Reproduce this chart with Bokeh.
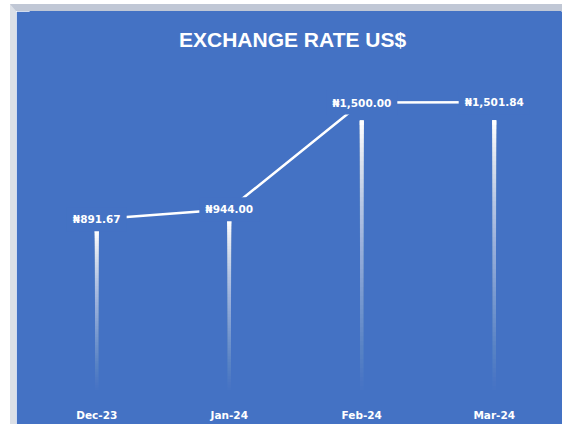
from bokeh.plotting import figure
from bokeh.models import FactorRange, Range1d, ColumnDataSource, Label
from bokeh.core.properties import value
from bokeh.embed import file_html
from bokeh.resources import INLINE

months = ["Dec-23", "Jan-24", "Feb-24", "Mar-24"]
rates = [891.67, 944.00, 1500.00, 1501.84]
rate_labels = ["₦891.67", "₦944.00", "₦1,500.00", "₦1,501.84"]
title_text = "EXCHANGE  RATE US$"

BLUE = "#4472C4"

p = figure(x_range=FactorRange(factors=months), y_range=Range1d(0, 1974),
           width=552, height=420, output_backend="svg", toolbar_location=None,
           title_location=None,
           min_border_left=14, min_border_right=8, min_border_top=0, min_border_bottom=41)
p.extra_y_ranges = {"bars": Range1d(0, 2106)}

p.background_fill_color = BLUE
p.border_fill_color = BLUE
p.outline_line_color = BLUE
p.outline_line_width = 2
p.xgrid.visible = False
p.ygrid.visible = False
p.yaxis.visible = False

ax = p.xaxis[0]
ax.axis_line_color = None
ax.major_tick_line_color = None
ax.minor_tick_line_color = None
ax.major_tick_out = 0
ax.major_tick_in = 0
ax.major_label_standoff = 18
ax.major_label_text_color = "white"
ax.major_label_text_font = "DejaVu Sans"
ax.major_label_text_font_style = "bold"
ax.major_label_text_font_size = "10.5px"

# gradient columns (white fading downwards): nested layers from each layer's
# start up to the rate, so the composite opacity grows toward the top
N = 60
prof = [((k) / N) ** 1.1 for k in range(N + 1)]
bx, bb, bt, ba = [], [], [], []
for m, r in zip(months, rates):
    for k in range(N):
        a_prev, a_next = prof[k], min(prof[k + 1], 0.999)
        layer = 1 - (1 - a_next) / (1 - a_prev)
        bx.append(m)
        bb.append(r * k / N)
        bt.append(r)
        ba.append(layer)
bars = ColumnDataSource(dict(x=bx, bottom=bb, top=bt, alpha=ba))
p.vbar(x="x", bottom="bottom", top="top", width=0.03, source=bars,
       fill_color="white", fill_alpha="alpha", line_color=None, y_range_name="bars")

src = ColumnDataSource(dict(x=months, y=rates, lab=rate_labels))
p.line(x="x", y="y", source=src, line_color="white", line_width=2.5)
p.text(x="x", y="y", text="lab", source=src, text_color="white",
       text_font=value("DejaVu Sans"), text_font_style="bold", text_font_size="10.5px",
       text_align="center", text_baseline="middle",
       background_fill_color=BLUE, padding=6)

p.add_layout(Label(x=265, y=351, x_units="screen", y_units="screen", text=title_text,
                   text_align="center", text_baseline="middle", text_color="white",
                   text_font="Liberation Sans", text_font_style="bold",
                   text_font_size="21px"))

p.styles = {"margin-left": "10px", "margin-top": "4px",
            "border-left": "6px solid #DCE0E7", "border-top": "7px solid #C0C7D5"}

open("out.html", "w").write(file_html(p, INLINE))
